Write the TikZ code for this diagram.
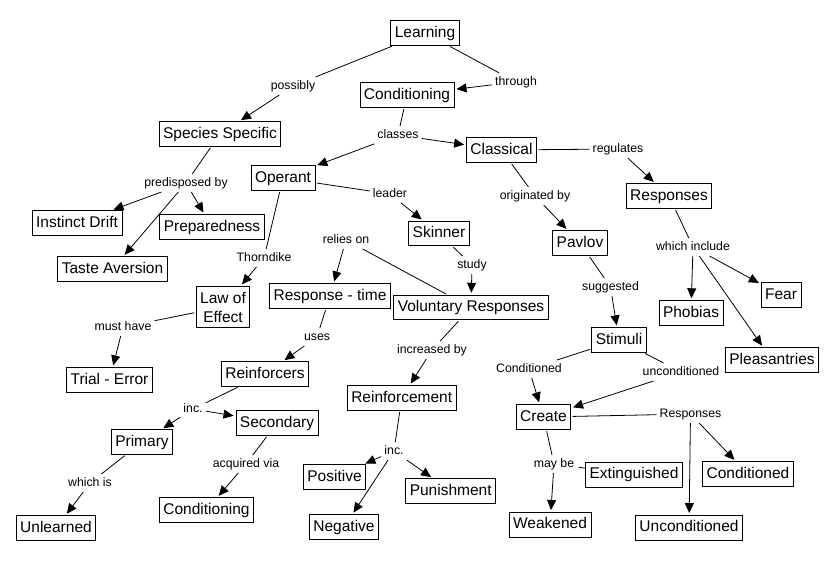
\documentclass[tikz,border=0pt]{standalone}
\usepackage{fontspec}
\setmainfont{Liberation Sans}
\usetikzlibrary{arrows.meta}

\begin{document}
\begin{tikzpicture}[x=1pt, y=-1pt,
	concept/.style={draw, line width=.8pt, font=\fontsize{15.5}{19}\selectfont,
		inner xsep=4pt, inner ysep=4.9pt, text height=11.5pt, text depth=3.3pt},
	phrase/.style={font=\fontsize{12.3}{14}\selectfont, inner sep=3pt,
		text height=9pt, text depth=2.6pt},
	tie/.style={line width=.8pt, shorten <=1.5pt},
	arr/.style={line width=.8pt, shorten >=2pt, -{Triangle[length=10pt,width=9pt]}}]

	\useasboundingbox (0,0) rectangle (832,560);

	% concepts
	\node[concept] (learning) at (425,33) {Learning};
	\node[concept] (cond) at (407,95) {Conditioning};
	\node[concept] (species) at (220,134) {Species Specific};
	\node[concept] (operant) at (283,178) {Operant};
	\node[concept] (classical) at (501.5,150) {Classical};
	\node[concept] (responses) at (669,196) {Responses};
	\node[concept] (instinct) at (77,223) {Instinct Drift};
	\node[concept] (prep) at (212,227) {Preparedness};
	\node[concept] (taste) at (112.5,269) {Taste Aversion};
	\node[concept] (skinner) at (439,233.5) {Skinner};
	\node[concept] (pavlov) at (580,243) {Pavlov};
	\node[concept] (resptime) at (330,296) {Response - time};
	\node[concept] (voluntary) at (471,307.5) {Voluntary Responses};
	\node[concept, align=center, text height={}, text depth={}, inner ysep=5.5pt]
		(law) at (223,307) {Law of\\Effect};
	\node[concept] (fear) at (781,295) {Fear};
	\node[concept] (phobias) at (691,313) {Phobias};
	\node[concept] (stimuli) at (619,340) {Stimuli};
	\node[concept] (pleasant) at (772,360) {Pleasantries};
	\node[concept] (trial) at (109.5,380) {Trial - Error};
	\node[concept] (reinforcers) at (265,374) {Reinforcers};
	\node[concept] (reinforcement) at (401.7,398) {Reinforcement};
	\node[concept] (create) at (543.5,417) {Create};
	\node[concept] (secondary) at (277,423) {Secondary};
	\node[concept] (primary) at (142,442) {Primary};
	\node[concept] (positive) at (334.5,477) {Positive};
	\node[concept] (punish) at (450.7,491) {Punishment};
	\node[concept] (exting) at (634,474.7) {Extinguished};
	\node[concept] (condresp) at (748,474) {Conditioned};
	\node[concept] (condit2) at (206.5,510) {Conditioning};
	\node[concept] (negative) at (344,527) {Negative};
	\node[concept] (unlearned) at (56,528) {Unlearned};
	\node[concept] (weakened) at (550,524.7) {Weakened};
	\node[concept] (uncondresp) at (689,527.7) {Unconditioned};

	% linking phrases
	\node[phrase] (possibly) at (293,86) {possibly};
	\node[phrase] (through) at (516,82) {through};
	\node[phrase] (classes) at (398,135) {classes};
	\node[phrase] (predisp) at (186,183) {predisposed by};
	\node[phrase] (leader) at (390,194) {leader};
	\node[phrase] (regulates) at (618,149) {regulates};
	\node[phrase] (origin) at (535,196) {originated by};
	\node[phrase] (relies) at (346,240) {relies on};
	\node[phrase] (thorndike) at (264,258) {Thorndike};
	\node[phrase] (include) at (693,247) {which include};
	\node[phrase] (study) at (472,265) {study};
	\node[phrase] (suggested) at (610.5,287) {suggested};
	\node[phrase] (musthave) at (123,327) {must have};
	\node[phrase] (uses) at (317,337) {uses};
	\node[phrase] (increased) at (432,350) {increased by};
	\node[phrase] (condlab) at (529,369) {Conditioned};
	\node[phrase] (uncondlab) at (681,372) {unconditioned};
	\node[phrase] (incA) at (193,409) {inc.};
	\node[phrase] (incB) at (394,451) {inc.};
	\node[phrase] (resplab) at (690.5,414) {Responses};
	\node[phrase] (acqvia) at (246,464) {acquired via};
	\node[phrase] (maybe) at (554,464) {may be};
	\node[phrase] (whichis) at (90,483) {which is};

	% concept -- phrase
	\draw[tie] (learning) -- (possibly);
	\draw[tie] (learning) -- (through);
	\draw[tie] (cond) -- (classes);
	\draw[tie] (species) -- (predisp);
	\draw[tie] (operant) -- (leader);
	\draw[tie] (operant) -- (thorndike);
	\draw[tie] (classical) -- (regulates);
	\draw[tie] (classical) -- (origin);
	\draw[tie] (skinner) -- (study);
	\draw[tie] (voluntary) -- (relies);
	\draw[tie] (voluntary) -- (increased);
	\draw[tie] (law) -- (musthave);
	\draw[tie] (resptime) -- (uses);
	\draw[tie] (reinforcers) -- (incA);
	\draw[tie] (primary) -- (whichis);
	\draw[tie] (secondary) -- (acqvia);
	\draw[tie] (reinforcement) -- (incB);
	\draw[tie] (responses) -- (include);
	\draw[tie] (pavlov) -- (suggested);
	\draw[tie] (stimuli) -- (condlab);
	\draw[tie] (stimuli) -- (uncondlab);
	\draw[tie] (create) -- (resplab);
	\draw[tie] (create) -- (maybe);

	% phrase -> concept
	\draw[arr] (possibly) -- (species);
	\draw[arr] (through) -- (cond);
	\draw[arr] (classes) -- (operant);
	\draw[arr] (classes) -- (classical);
	\draw[arr] (predisp) -- (instinct);
	\draw[arr] (predisp) -- (prep);
	\draw[arr] (predisp) -- (taste);
	\draw[arr] (leader) -- (skinner);
	\draw[arr] (thorndike) -- (law);
	\draw[arr] (regulates) -- (responses);
	\draw[arr] (origin) -- (pavlov);
	\draw[arr] (study) -- (voluntary);
	\draw[arr] (relies) -- (resptime);
	\draw[arr] (increased) -- (reinforcement);
	\draw[arr] (musthave) -- (trial);
	\draw[arr] (uses) -- (reinforcers);
	\draw[arr] (incA) -- (primary);
	\draw[arr] (incA) -- (secondary);
	\draw[arr] (whichis) -- (unlearned);
	\draw[arr] (acqvia) -- (condit2);
	\draw[arr] (incB) -- (positive);
	\draw[arr] (incB) -- (negative);
	\draw[arr] (incB) -- (punish);
	\draw[arr] (include) -- (phobias);
	\draw[arr] (include) -- (fear);
	\draw[arr] (include) -- (pleasant);
	\draw[arr] (suggested) -- (stimuli);
	\draw[arr] (condlab) -- (create);
	\draw[arr] (uncondlab) -- (create);
	\draw[arr] (resplab) -- (condresp);
	\draw[arr] (resplab) -- (uncondresp);
	\draw[tie] (maybe) -- (exting);
	\draw[arr] (maybe) -- (weakened);

\end{tikzpicture}
\end{document}
